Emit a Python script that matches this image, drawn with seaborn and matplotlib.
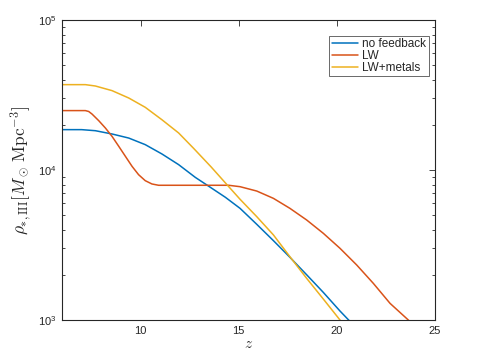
import matplotlib
matplotlib.use("Agg")
import matplotlib.pyplot as plt
import seaborn as sns
import pandas as pd
from matplotlib.ticker import LogLocator, FixedLocator

# data
z_nofb = [6.0, 7.0, 7.7, 8.55, 9.4, 10.24, 11.09, 11.94, 12.79, 13.4, 14.32, 15.07, 15.92, 16.77, 17.61, 18.46, 19.31, 20.16, 20.6, 21.0]
rho_nofb = [18580, 18580, 18280, 17380, 16330, 14760, 12790, 10860, 8930, 7910, 6580, 5550, 4345, 3380, 2618, 2004, 1528, 1148, 1000, 891]

z_lw = [6.0, 7.19, 7.36, 7.53, 7.87, 8.21, 8.55, 8.89, 9.23, 9.57, 9.9, 10.24, 10.58, 10.92, 12.0, 14.49, 15.07, 15.92, 16.77, 17.61, 18.46, 19.31, 20.16, 21.01, 21.86, 22.71, 23.64, 24.0]
rho_lw = [24890, 24890, 24550, 23600, 21330, 19050, 16750, 14390, 12330, 10570, 9310, 8490, 8070, 7910, 7910, 7910, 7740, 7240, 6470, 5550, 4645, 3784, 3006, 2328, 1754, 1291, 1000, 891]

z_met = [6.0, 7.19, 7.7, 8.55, 9.4, 10.24, 11.09, 11.94, 12.7, 13.6, 14.43, 15.07, 15.92, 16.77, 17.61, 18.46, 19.31, 20.16, 20.5]
rho_met = [37070, 37070, 36310, 33810, 30200, 26180, 21630, 17660, 13960, 10470, 7910, 6380, 4887, 3690, 2642, 1897, 1380, 1000, 871]

labels = ["no feedback", "LW", "LW+metals"]
colors = ["#0072BD", "#D95319", "#EDB120"]
xticks = [10, 15, 20, 25]

sns.set_theme(style="white")
plt.rcParams['font.family'] = ['Liberation Sans', 'DejaVu Sans']
plt.rcParams['mathtext.fontset'] = 'cm'

df = pd.concat([
    pd.DataFrame({"z": z_nofb, "rho": rho_nofb, "model": labels[0]}),
    pd.DataFrame({"z": z_lw, "rho": rho_lw, "model": labels[1]}),
    pd.DataFrame({"z": z_met, "rho": rho_met, "model": labels[2]}),
])

fig = plt.figure(figsize=(4.8, 3.6), dpi=100)
ax = fig.add_axes([62/480, 40/360, 373/480, 300/360])
sns.lineplot(data=df, x="z", y="rho", hue="model", hue_order=labels,
             palette=colors, linewidth=1.1, ax=ax, sort=False, estimator=None)
ax.set_yscale("log")
ax.set_xlim(6, 25)
ax.set_ylim(1e3, 1e5)
ax.xaxis.set_major_locator(FixedLocator(xticks))
ax.set_xticklabels([str(t) for t in xticks])
ax.yaxis.set_major_locator(LogLocator(base=10))
ax.yaxis.set_minor_locator(LogLocator(base=10, subs=range(2, 10)))
ax.tick_params(axis='both', which='major', direction='in', top=True, right=True,
               length=4, width=0.6, labelsize=8, colors='#262626', pad=4)
ax.tick_params(axis='y', which='minor', direction='in', left=True, right=True,
               length=2.5, width=0.6, colors='#262626')
for s in ax.spines.values():
    s.set_color('#262626')
    s.set_linewidth(0.8)
ax.set_xlabel(r"$z$", fontsize=11, color='#262626', labelpad=1)
ax.set_ylabel(r"$\rho_{*,\rm III}[M_\odot\,{\rm Mpc}^{-3}]$", fontsize=12.5, color='#262626', labelpad=3)
leg = ax.legend(loc='upper right', bbox_to_anchor=(0.993, 0.96), fontsize=8.5,
                frameon=True, fancybox=False, handlelength=2.2, handletextpad=0.4,
                borderpad=0.2, labelspacing=0.0, borderaxespad=0.3)
leg.get_frame().set_edgecolor('#262626')
leg.get_frame().set_linewidth(0.6)
fig.savefig("out.png", dpi=100)
